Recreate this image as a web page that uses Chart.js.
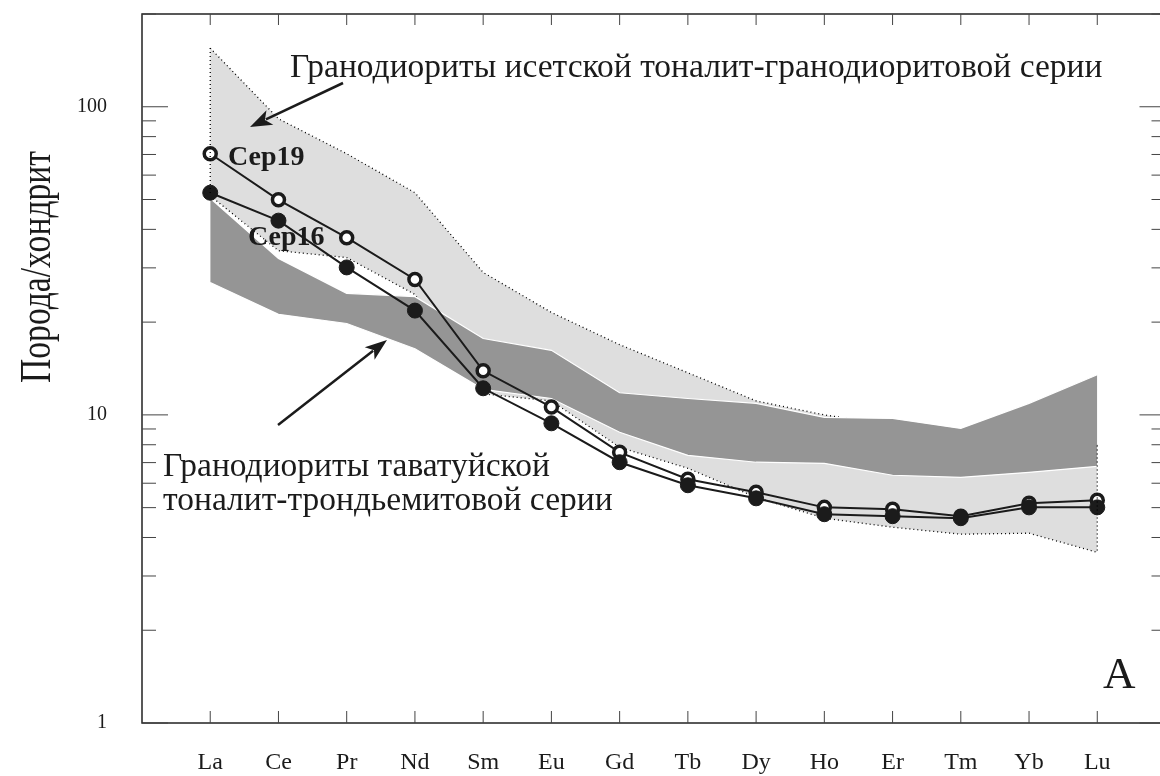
<!DOCTYPE html>
<html>
<head>
<meta charset="utf-8">
<script src="https://cdn.jsdelivr.net/npm/chart.js@4.4.1/dist/chart.umd.min.js"></script>
<style>
  html, body { margin: 0; padding: 0; background: #fff; overflow: hidden; }
  #wrap { width: 1175px; height: 776px; }
</style>
</head>
<body>
<div id="wrap"><canvas id="reeChart" width="1175" height="776"></canvas></div>
<script>
// REE, chondrite-normalized
const elements = ['La', 'Ce', 'Pr', 'Nd', 'Sm', 'Eu', 'Gd', 'Tb', 'Dy', 'Ho', 'Er', 'Tm', 'Yb', 'Lu'];

const ser19 = [70.4, 49.9, 37.6, 27.5, 13.9, 10.6, 7.56, 6.18, 5.61, 5.01, 4.94, 4.69, 5.17, 5.28];
const ser16 = [52.6, 42.7, 30.1, 21.8, 12.2, 9.39, 7.02, 5.91, 5.36, 4.76, 4.69, 4.62, 5.01, 5.01];

// field of Isetsk granodiorites (light grey)
const isetUpper = [155, 91.4, 70.4, 52.6, 29.0, 21.5, 16.9, 13.7, 11.1, 10.0, 9.25, 8.78, 8.39, 7.96];
const isetLower = [51.4, 34.1, 32.4, 24.6, 11.7, 11.1, 7.85, 6.71, 5.40, 4.62, 4.32, 4.10, 4.13, 3.58];

// field of Tavatuy granodiorites (dark grey)
const tavatUpper = [50.5, 32.2, 24.8, 24.2, 17.7, 16.2, 11.8, 11.3, 10.9, 9.81, 9.74, 9.04, 10.9, 13.5];
const tavatLower = [26.9, 21.2, 19.8, 16.4, 12.1, 11.3, 8.78, 7.39, 7.02, 6.96, 6.37, 6.27, 6.51, 6.81];

const yTickLabels = [1, 10, 100];

const serif = '"Liberation Serif", "Times New Roman", serif';
const ink = '#1b1b1b';

const pts = arr => arr.map((v, i) => ({ x: i + 1, y: v }));

function arrow(ctx, x1, y1, x2, y2) {
  const a = Math.atan2(y2 - y1, x2 - x1);
  const hl = 22, hw = 8;
  ctx.beginPath();
  ctx.moveTo(x1, y1);
  ctx.lineTo(x2 - Math.cos(a) * hl * 0.8, y2 - Math.sin(a) * hl * 0.8);
  ctx.stroke();
  ctx.beginPath();
  ctx.moveTo(x2, y2);
  ctx.lineTo(x2 - Math.cos(a) * hl - Math.sin(a) * hw, y2 - Math.sin(a) * hl + Math.cos(a) * hw);
  ctx.lineTo(x2 - Math.cos(a) * hl * 0.75, y2 - Math.sin(a) * hl * 0.75);
  ctx.lineTo(x2 - Math.cos(a) * hl + Math.sin(a) * hw, y2 - Math.sin(a) * hl - Math.cos(a) * hw);
  ctx.closePath();
  ctx.fill();
}

const framePlugin = {
  id: 'frame',
  afterDraw(chart) {
    const { ctx, chartArea: ca, scales } = chart;
    const xs = scales.x, ys = scales.y;
    ctx.save();

    // dotted ends of the light field
    ctx.strokeStyle = '#000';
    ctx.lineWidth = 1.3;
    ctx.setLineDash([1, 3]);
    [0, elements.length - 1].forEach(i => {
      const x = xs.getPixelForValue(i + 1);
      ctx.beginPath();
      ctx.moveTo(x, ys.getPixelForValue(isetUpper[i]));
      ctx.lineTo(x, ys.getPixelForValue(isetLower[i]));
      ctx.stroke();
    });
    ctx.setLineDash([]);

    // box
    ctx.strokeStyle = '#222';
    ctx.lineWidth = 1.5;
    ctx.strokeRect(ca.left, ca.top, ca.right - ca.left, ca.bottom - ca.top);

    // inward ticks
    ctx.lineWidth = 1;
    ctx.strokeStyle = '#444';
    ctx.beginPath();
    elements.forEach((el, i) => {
      const x = xs.getPixelForValue(i + 1);
      ctx.moveTo(x, ca.bottom); ctx.lineTo(x, ca.bottom - 12);
      ctx.moveTo(x, ca.top); ctx.lineTo(x, ca.top + 11);
    });
    yTickLabels.forEach(d => {
      for (let k = 1; k <= 9; k++) {
        const v = d * k;
        if (v > ys.max) break;
        const y = ys.getPixelForValue(v);
        const len = k === 1 ? 26 : 14;
        ctx.moveTo(ca.left, y); ctx.lineTo(ca.left + len, y);
        ctx.moveTo(ca.right, y); ctx.lineTo(ca.right - len, y);
      }
    });
    ctx.stroke();

    // tick labels
    ctx.fillStyle = ink;
    ctx.font = '24px ' + serif;
    ctx.textAlign = 'center';
    ctx.textBaseline = 'alphabetic';
    elements.forEach((el, i) => {
      ctx.fillText(el, xs.getPixelForValue(i + 1), 769);
    });
    ctx.font = '20px ' + serif;
    ctx.textAlign = 'right';
    ctx.textBaseline = 'middle';
    yTickLabels.forEach(v => {
      ctx.fillText(String(v), ca.left - 35, ys.getPixelForValue(v));
    });

    // annotations
    ctx.strokeStyle = ink;
    ctx.textBaseline = 'alphabetic';
    ctx.textAlign = 'left';
    ctx.font = '33.5px ' + serif;
    ctx.fillText('Гранодиориты исетской тоналит-гранодиоритовой серии', 290, 77);
    ctx.fillText('Гранодиориты таватуйской', 163, 476);
    ctx.fillText('тоналит-трондьемитовой серии', 163, 510);
    ctx.font = 'bold 28px ' + serif;
    ctx.fillText('Сер19', 228, 165);
    ctx.fillText('Сер16', 248, 245);
    ctx.font = '45px ' + serif;
    ctx.fillText('A', 1103, 688);

    ctx.lineWidth = 2.5;
    arrow(ctx, 343, 83, 250, 127);
    arrow(ctx, 278, 425, 387, 340);

    // y title
    ctx.save();
    ctx.translate(50, 267);
    ctx.rotate(-Math.PI / 2);
    ctx.font = '44px ' + serif;
    ctx.textAlign = 'center';
    const w = ctx.measureText('Порода/хондрит').width;
    ctx.scale(232 / w, 1);
    ctx.fillText('Порода/хондрит', 0, 0);
    ctx.restore();

    ctx.restore();
  }
};

const ctx = document.getElementById('reeChart').getContext('2d');
new Chart(ctx, {
  type: 'line',
  data: {
    datasets: [
      {
        label: 'Сер16', data: pts(ser16), order: 0,
        borderColor: ink, borderWidth: 2, fill: false,
        pointRadius: 7.5, pointBackgroundColor: ink, pointBorderColor: ink, pointBorderWidth: 1
      },
      {
        label: 'Сер19', data: pts(ser19), order: 1,
        borderColor: ink, borderWidth: 2, fill: false,
        pointRadius: 6, pointBackgroundColor: '#fff', pointBorderColor: ink, pointBorderWidth: 3.5
      },
      {
        label: 'tavat upper', data: pts(tavatUpper), order: 3,
        borderColor: '#fff', borderWidth: 1.2, pointRadius: 0,
        backgroundColor: '#959595', fill: '+1'
      },
      {
        label: 'tavat lower', data: pts(tavatLower), order: 2,
        borderColor: '#fff', borderWidth: 1.2, pointRadius: 0, fill: false
      },
      {
        label: 'iset upper', data: pts(isetUpper), order: 5,
        borderColor: '#000', borderWidth: 1.3, borderDash: [1, 3], pointRadius: 0,
        backgroundColor: '#dedede', fill: '+1'
      },
      {
        label: 'iset lower', data: pts(isetLower), order: 4,
        borderColor: '#000', borderWidth: 1.3, borderDash: [1, 3], pointRadius: 0, fill: false
      }
    ]
  },
  options: {
    responsive: false,
    animation: false,
    layout: { padding: { top: 14, right: 8, left: 0, bottom: 0 } },
    plugins: { legend: { display: false }, tooltip: { enabled: false } },
    scales: {
      x: {
        type: 'linear', min: 0, max: 15,
        afterFit: s => { s.height = 53; },
        grid: { display: false }, border: { display: false },
        ticks: { display: false }
      },
      y: {
        type: 'logarithmic', min: 1, max: 200,
        afterFit: s => { s.width = 142; },
        grid: { display: false }, border: { display: false },
        ticks: { display: false }
      }
    }
  },
  plugins: [framePlugin]
});
</script>
</body>
</html>
